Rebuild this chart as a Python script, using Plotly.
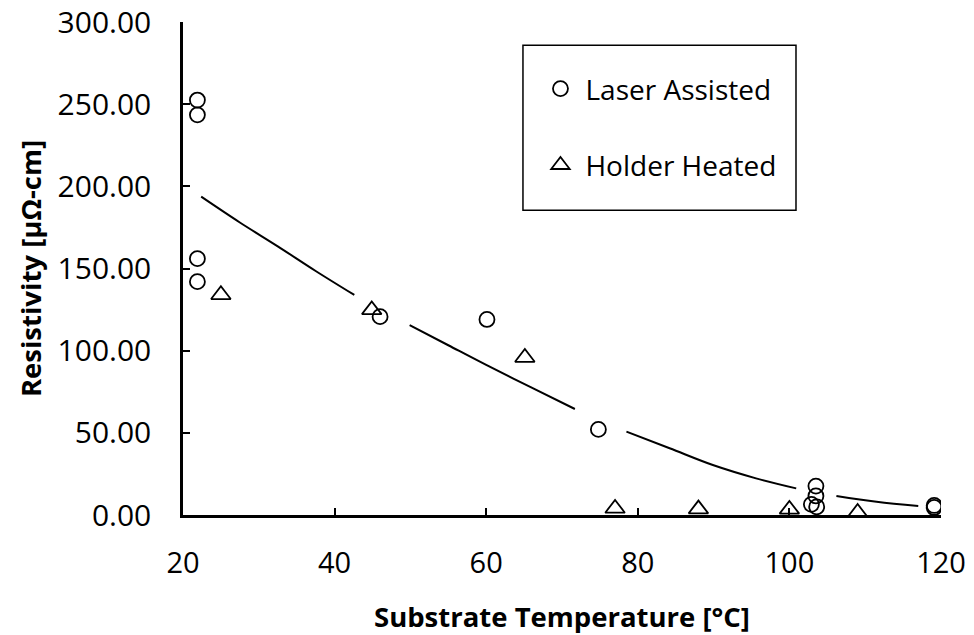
import plotly.graph_objects as go

# Laser-assisted deposition: substrate temperature [°C] vs resistivity [µΩ-cm]
laser_temp = [21.9, 21.9, 21.9, 21.9, 46.0, 60.1, 74.8, 102.9, 103.5, 103.5, 103.6, 119.1, 119.1]
laser_rho = [252.5, 243.5, 156.0, 142.0, 120.7, 119.0, 52.1, 6.5, 17.6, 11.6, 5.0, 5.8, 4.6]

# Holder-heated deposition
holder_temp = [25.0, 44.9, 65.1, 77.0, 88.0, 100.0, 109.0]
holder_rho = [134.0, 124.8, 95.8, 4.0, 3.6, 3.4, 1.5]

# Trend curve, drawn in broken segments (None separates the segments)
trend_temp = [22.4, 27.5, 32.5, 37.5, 42.6, None,
              49.9, 55.0, 60.0, 66.0, 71.7, None,
              78.5, 84.2, 89.9, 95.6, 100.9, None,
              106.2, 111.5, 117.0]
trend_rho = [193.7, 178.0, 163.5, 148.5, 133.9, None,
             115.6, 103.3, 91.3, 77.5, 64.5, None,
             50.7, 40.6, 30.4, 22.3, 16.2, None,
             11.6, 8.1, 5.5]

x_ticks = [20, 40, 60, 80, 100, 120]
y_ticks = [0, 50, 100, 150, 200, 250, 300]

FONT = "Open Sans, DejaVu Sans, sans-serif"

fig = go.Figure()

fig.add_trace(go.Scatter(
    x=trend_temp, y=trend_rho, mode="lines", line_shape="spline",
    line=dict(color="black", width=2), showlegend=False, hoverinfo="skip",
    connectgaps=False,
))

fig.add_trace(go.Scatter(
    x=laser_temp, y=laser_rho, mode="markers", name="Laser Assisted",
    legendgroup="laser",
    marker=dict(symbol="circle-open", size=15, color="black", line=dict(width=1.8)),
))

fig.add_trace(go.Scatter(
    x=holder_temp, y=holder_rho, mode="markers", name="Holder Heated",
    legendgroup="holder",
    marker=dict(symbol="triangle-up-open", size=17, color="black", line=dict(width=1.8)),
))

# Legend frame
fig.add_shape(type="rect", xref="paper", yref="paper",
              x0=0.4485, x1=0.8087, y0=0.6183, y1=0.9527,
              line=dict(color="black", width=1.5), fillcolor="rgba(0,0,0,0)")

fig.update_layout(
    width=974, height=635,
    margin=dict(l=183, r=33, t=22, b=120),
    paper_bgcolor="white", plot_bgcolor="white",
    font=dict(family=FONT, color="black"),
    showlegend=True,
    legend=dict(
        x=0.465, y=0.915, xanchor="left", yanchor="top",
        bgcolor="rgba(0,0,0,0)", borderwidth=0,
        font=dict(family=FONT, size=28, color="black"),
        tracegroupgap=37, traceorder="grouped", itemwidth=40,
    ),
    xaxis=dict(
        range=[20, 120], tickvals=x_ticks, ticktext=[str(v) for v in x_ticks],
        showgrid=False, zeroline=False,
        showline=True, linecolor="black", linewidth=3,
        ticks="inside", ticklen=7, tickwidth=2, tickcolor="black",
        tickfont=dict(family=FONT, size=29, color="black"),
        ticklabelstandoff=20,
        title=dict(text="<b>Substrate Temperature [°C]</b>",
                   font=dict(family=FONT, size=27.5, color="black"), standoff=32),
        automargin=False,
    ),
    yaxis=dict(
        range=[0, 300], tickvals=y_ticks, tickformat=".2f",
        showgrid=False, zeroline=False,
        showline=True, linecolor="black", linewidth=2.5,
        ticks="inside", ticklen=7, tickwidth=2, tickcolor="black",
        tickfont=dict(family=FONT, size=30, color="black"),
        ticklabelstandoff=23,
        title=dict(text="<b>Resistivity [µΩ-cm]</b>",
                   font=dict(family=FONT, size=27.5, color="black"), standoff=8),
        automargin=False,
    ),
)

fig.write_html("out.html")
